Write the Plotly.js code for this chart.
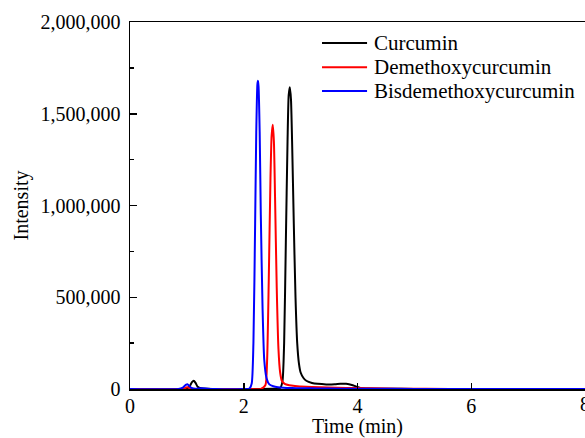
<!DOCTYPE html>
<html>
<head>
<meta charset="utf-8">
<script src="https://cdn.plot.ly/plotly-3.0.1.min.js"></script>
<style>html,body{margin:0;padding:0;background:#fff;}#chart{width:585px;height:438px;}</style>
</head>
<body>
<div id="chart"></div>
<script>
// Series names
const seriesNames = ["Curcumin", "Demethoxycurcumin", "Bisdemethoxycurcumin"];

// Curcumin (black)
const curTime = [0, 0.9, 1.0, 1.05, 1.09, 1.12, 1.15, 1.19, 1.25, 1.35, 1.5, 2.0, 2.5, 2.64, 2.68, 2.71, 2.74, 2.77, 2.79, 2.81, 2.83, 2.85, 2.88, 2.91, 2.94, 2.97, 3.0, 3.05, 3.1, 3.2, 3.3, 3.45, 3.6, 3.7, 3.8, 3.9, 3.97, 4.05, 4.2, 4.5, 5, 6, 7, 8];
const curInt = [0, 0, 3000, 15000, 38000, 45000, 35000, 12000, 4000, 1000, 0, 0, 1000, 5000, 40000, 250000, 800000, 1350000, 1600000, 1645000, 1580000, 1350000, 900000, 500000, 250000, 140000, 90000, 60000, 45000, 33000, 28000, 25000, 26000, 29000, 28000, 22000, 14000, 6000, 3000, 1500, 500, 0, 0, 0];

// Demethoxycurcumin (red)
const demTime = [0, 0.9, 0.97, 1.0, 1.03, 1.07, 1.15, 1.5, 2.0, 2.3, 2.38, 2.41, 2.44, 2.47, 2.49, 2.51, 2.53, 2.55, 2.58, 2.61, 2.64, 2.67, 2.72, 2.8, 2.9, 3.0, 3.2, 3.5, 3.8, 4.0, 4.3, 4.7, 5.2, 6, 8];
const demInt = [0, 0, 5000, 10000, 8000, 3000, 0, 0, 0, 1000, 20000, 150000, 600000, 1150000, 1380000, 1440000, 1350000, 1050000, 550000, 220000, 90000, 45000, 28000, 20000, 16000, 14000, 11000, 8000, 6000, 5000, 3500, 2000, 1000, 0, 0];

// Bisdemethoxycurcumin (blue)
const bisTime = [0, 0.85, 0.93, 0.98, 1.01, 1.04, 1.08, 1.15, 1.25, 1.5, 2.0, 2.1, 2.14, 2.17, 2.2, 2.22, 2.24, 2.25, 2.26, 2.28, 2.3, 2.33, 2.36, 2.4, 2.45, 2.52, 2.6, 2.7, 2.85, 3.0, 3.3, 3.7, 4.2, 5, 6, 8];
const bisInt = [0, 0, 8000, 22000, 26000, 18000, 6000, 2000, 4000, 0, 0, 2000, 30000, 250000, 900000, 1400000, 1660000, 1680000, 1650000, 1400000, 950000, 450000, 160000, 60000, 25000, 15000, 10000, 7000, 5000, 4000, 3000, 2000, 1000, 500, 0, 0];

// Axis ticks
const xTickVals = [0, 2, 4, 6, 8];
const xTickText = ["0", "2", "4", "6", "8"];
const yTickVals = [0, 500000, 1000000, 1500000, 2000000];
const yTickText = ["0", "500,000", "1,000,000", "1,500,000", "2,000,000"];

const colors = ["#000000", "#ff0000", "#0000ff"];
const xs = [curTime, demTime, bisTime];
const ys = [curInt, demInt, bisInt];

const traces = seriesNames.map((n, i) => ({
  x: xs[i], y: ys[i], name: n, type: "scatter", mode: "lines",
  line: {color: colors[i], width: 2, shape: "spline", smoothing: 0.6},
  showlegend: false
}));

const fam = "Liberation Serif, Times New Roman, serif";
const font = {family: fam, size: 20, color: "#000"};

// Hand-built legend (paper coordinates)
const legX0 = 0.422, legX1 = 0.521, legTextX = 0.532;
const legY = [0.943, 0.877, 0.812];
const shapes = seriesNames.map((n, i) => ({
  type: "line", xref: "paper", yref: "paper",
  x0: legX0, x1: legX1, y0: legY[i], y1: legY[i],
  line: {color: colors[i], width: 2}
}));
const annotations = seriesNames.map((n, i) => ({
  text: n, xref: "paper", yref: "paper", x: legTextX, y: legY[i],
  xanchor: "left", yanchor: "middle", showarrow: false,
  font: {family: fam, size: 21, color: "#000"}
}));
// last x tick label sits on the figure edge; Plotly drops it, so draw it as text
const lastIdx = xTickVals.length - 1;
annotations.push({
  text: xTickText[lastIdx], xref: "x", yref: "paper", x: xTickVals[lastIdx], y: 0,
  xanchor: "center", yanchor: "top", yshift: -2, showarrow: false,
  font: font
});

const layout = {
  width: 585, height: 438,
  margin: {l: 130, r: 0, t: 22, b: 49, pad: 0},
  paper_bgcolor: "#fff", plot_bgcolor: "#fff",
  font: font,
  showlegend: false,
  shapes: shapes,
  annotations: annotations,
  xaxis: {
    range: [0, 8], tickvals: xTickVals.slice(0, lastIdx), ticktext: xTickText.slice(0, lastIdx),
    showgrid: false, zeroline: false,
    showline: true, linecolor: "#000", linewidth: 1.5, mirror: true,
    ticks: "inside", ticklen: 6, tickwidth: 1.5, tickcolor: "#000",
    ticklabelstandoff: -2,
    tickfont: font,
    title: {text: "Time (min)", font: font, standoff: 7}
  },
  yaxis: {
    range: [0, 2000000], tickvals: yTickVals, ticktext: yTickText,
    showgrid: false, zeroline: false,
    showline: true, linecolor: "#000", linewidth: 1.5,
    ticks: "inside", ticklen: 7, tickwidth: 1.5, tickcolor: "#000",
    ticklabelstandoff: 4,
    minor: {dtick: 250000, ticks: "inside", ticklen: 4, tickwidth: 1.5, tickcolor: "#000", showgrid: false},
    tickfont: font,
    title: {text: "Intensity", font: font, standoff: 6}
  }
};

Plotly.newPlot("chart", traces, layout, {displayModeBar: false, staticPlot: true});
</script>
</body>
</html>
